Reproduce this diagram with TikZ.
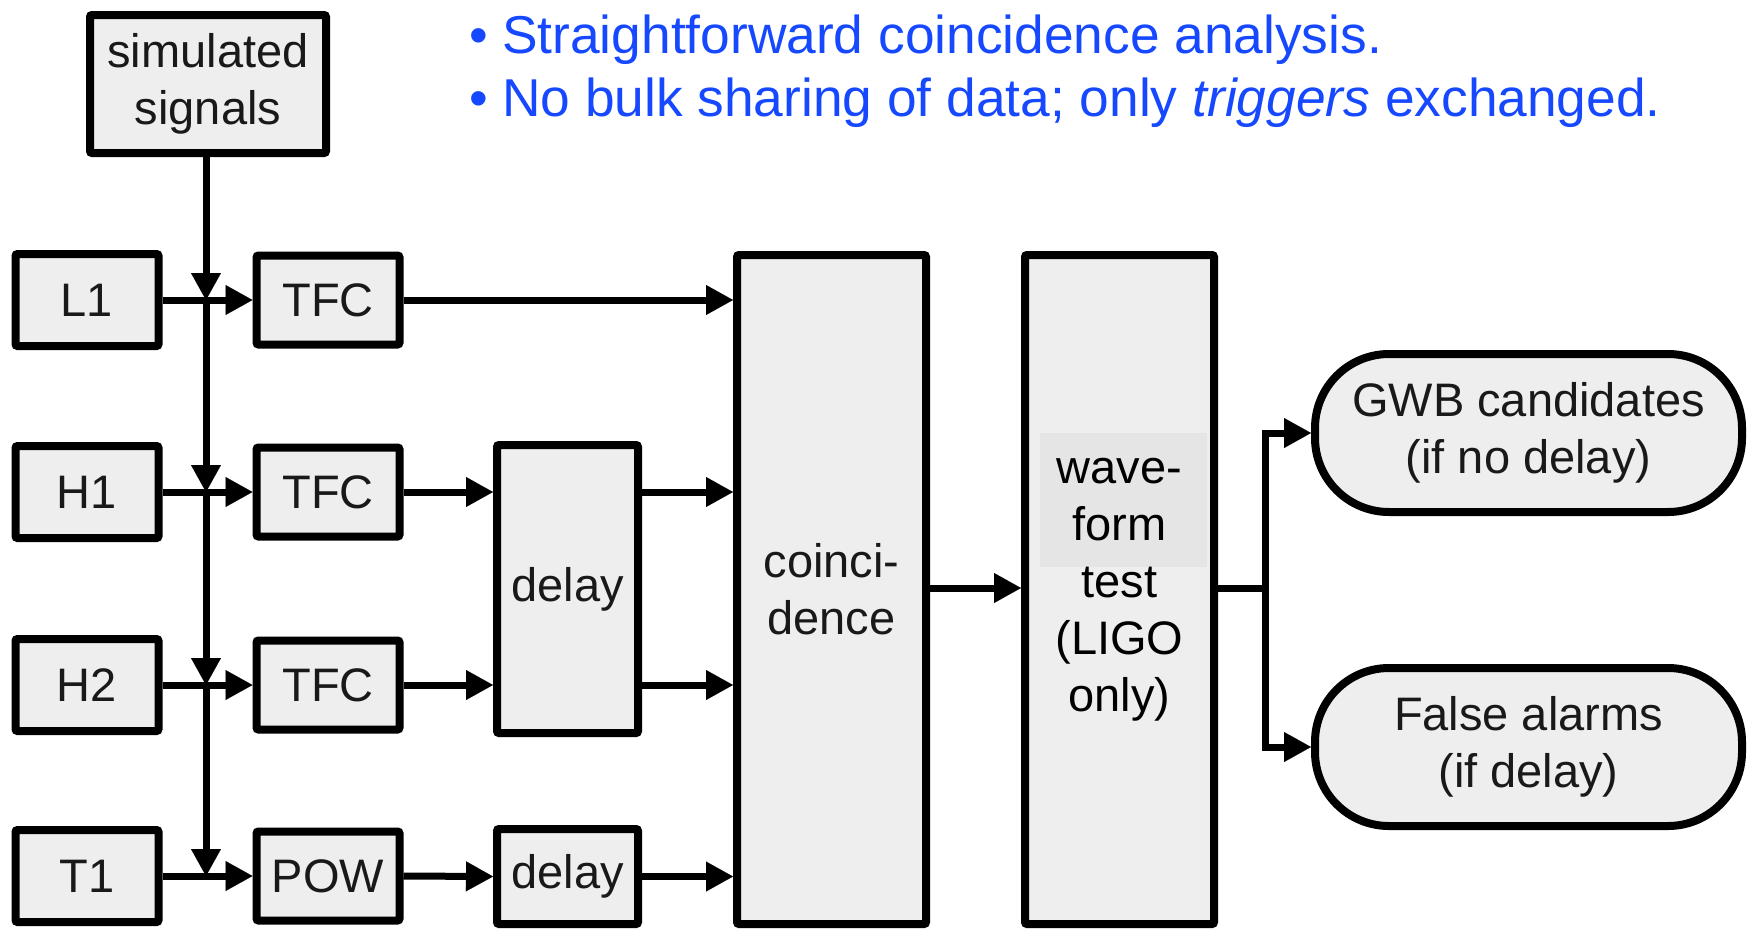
\documentclass[tikz,border=0pt]{standalone}
\usepackage{fontspec}
\setmainfont{Liberation Sans}
\usetikzlibrary{arrows.meta,calc}
\definecolor{boxfill}{RGB}{238,238,238}
\definecolor{shadefill}{RGB}{229,229,229}
\definecolor{bulletblue}{RGB}{22,72,255}
\begin{document}
\begin{tikzpicture}[x=1pt,y=-1pt,
  blk/.style={draw=black,fill=boxfill,line width=8pt,rounded corners=2pt,inner sep=0pt,
    font=\fontsize{47}{57}\selectfont,align=center,text=black!90},
  lbox/.style={blk,minimum width=143pt,minimum height=92pt},
  mbox/.style={blk,minimum width=143pt,minimum height=89pt},
  stad/.style={blk,rounded corners=74pt,minimum width=427pt,minimum height=158pt},
  conn/.style={line width=7pt,draw=black},
  arr/.style={conn,-{Triangle[length=27pt,width=30pt,line width=0.1pt]}},
  bul/.style={anchor=base west,text=bulletblue,font=\fontsize{53.3}{60}\selectfont,inner sep=0pt}
]
\useasboundingbox (0,0) rectangle (1753,930);

% top text
\node[bul] (t1) at (502,53) {\llap{\textbullet\hspace{14pt}}Straightforward coincidence analysis.};
\node[bul] (t2) at (502,116) {\llap{\textbullet\hspace{14pt}}No bulk sharing of data; only \textit{triggers} exchanged.};

% boxes
\node[blk,minimum width=236pt,minimum height=138pt] (sim) at (208,84) {simulated\\signals};
\node[lbox] (L1) at (87,300) {L1};
\node[lbox] (H1) at (87,492) {H1};
\node[lbox] (H2) at (87,685) {H2};
\node[lbox] (T1) at (87,876) {T1};
\node[mbox] (F1) at (328,300) {TFC};
\node[mbox] (F2) at (328,492) {TFC};
\node[mbox] (F3) at (328,685) {TFC};
\node[mbox] (P4) at (328,876) {POW};
\node[blk,minimum width=141pt,minimum height=288pt] (dA) at (567.5,589) {delay};
\node[blk,minimum width=141pt,minimum height=95pt] (dB) at (567.5,876.5) {delay};
\node[blk,minimum width=189pt,minimum height=669pt] (co) at (831.5,589.5) {coinci-\\dence};
\node[blk,minimum width=189pt,minimum height=669pt] (wf) at (1119.5,589.5) {};
\fill[shadefill] (1040,433) rectangle (1207,567);
\node[font=\fontsize{47}{57}\selectfont,align=center,inner sep=0pt] (wft) at (wf.center) {wave-\\form\\test\\(LIGO\\only)};
\node[stad] (gwb) at (1528.5,433) {GWB candidates\\(if no delay)};
\node[stad] (fa) at (1528.5,747) {False alarms\\(if delay)};

% bus junctions
\coordinate (j1) at (206,300);
\coordinate (j2) at (206,492);
\coordinate (j3) at (206,685);
\coordinate (j4) at (206,876);
\draw[arr] (sim.south -| j1) -- (j1);
\draw[arr] (j1) -- (j2);
\draw[arr] (j2) -- (j3);
\draw[arr] (j3) -- (j4);

% inputs to TFC / POW
\draw[arr] (L1.east) -- (F1.west);
\draw[arr] (H1.east) -- (F2.west);
\draw[arr] (H2.east) -- (F3.west);
\draw[arr] (T1.east) -- (P4.west);

% to delay
\draw[arr] (F2.east) -- (F2.east -| dA.west);
\draw[arr] (F3.east) -- (F3.east -| dA.west);
\draw[arr] (P4.east) -- (dB.west);

% to coincidence
\draw[arr] (F1.east) -- (F1.east -| co.west);
\draw[arr] (dA.east |- F2.east) -- (co.west |- F2.east);
\draw[arr] (dA.east |- F3.east) -- (co.west |- F3.east);
\draw[arr] (dB.east) -- (co.west |- dB.east);

% coincidence to waveform
\draw[arr] (co.east |- 0,588) -- (wf.west |- 0,588);

% branch
\coordinate (br) at (1265,588);
\draw[conn] (wf.east |- br) -- (br);
\draw[arr,line join=miter] (br) |- (gwb.west);
\draw[arr,line join=miter] (br) |- (fa.west);
\end{tikzpicture}
\end{document}
